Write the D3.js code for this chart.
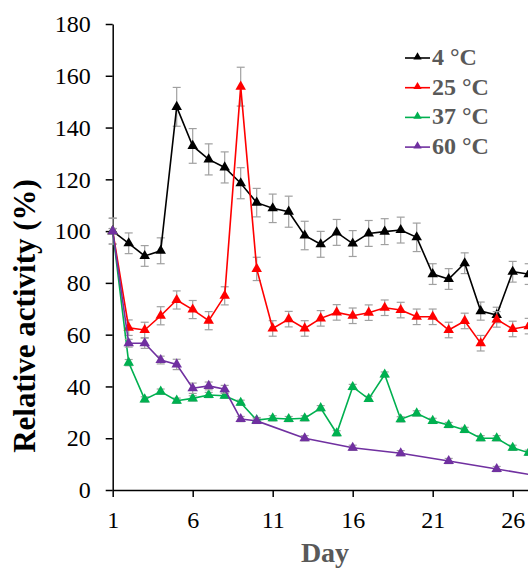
<!DOCTYPE html>
<html>
<head>
<meta charset="utf-8">
<script src="https://cdn.jsdelivr.net/npm/d3@7"></script>
<style>
  body { margin: 0; background: #fff; }
  svg { display: block; }
  text { font-family: "Times New Roman", "Liberation Serif", Tinos, Times, serif; }
</style>
</head>
<body>
<div id="chart"></div>
<script>
var width = 528
var height = 569

// days
var days = d3.range(1, 28)
var days60 = [1, 2, 3, 4, 5, 6, 7, 8, 9, 10, 13, 16, 19, 22, 25, 28]

var labels = ["4 °C", "25 °C", "37 °C", "60 °C"]
var colors = ["#000000", "#ff0000", "#00b050", "#7030a0"]

var act4 = [100, 95.3, 90.4, 92.4, 148.0, 132.9, 127.7, 124.6, 118.5, 111.0, 108.8, 107.5, 98.3,
  94.9, 99.5, 95.2, 99.1, 99.8, 100.4, 97.6, 83.4, 81.5, 87.6, 69.1, 67.6, 84.3, 83.4]
var err4 = [5, 4, 4, 5, 7.5, 6.7, 6, 6, 6, 5.5, 5.5, 6, 5.5, 5, 5, 5, 5, 5, 5, 5.5, 4, 4, 4, 3.5, 3, 4, 4]

var act25 = [100, 62.7, 61.8, 67.3, 73.4, 69.7, 65.4, 75.0, 155.8, 85.4, 62.4, 66.0, 62.4,
  66.3, 68.6, 67.3, 68.5, 70.4, 69.5, 66.9, 66.9, 61.8, 65.3, 56.7, 65.9, 62.2, 63.3]
var err25 = [5, 3, 3, 3.5, 3.5, 3.5, 3.5, 3.5, 7.5, 4.5, 3, 3, 3, 3, 3, 3, 3, 3, 3, 3, 3, 3, 3, 3, 3, 3, 3]

var act37 = [100, 49.2, 35.0, 38.0, 34.5, 35.4, 36.7, 36.4, 33.7, 27.0, 27.7, 27.4, 27.7,
  31.6, 21.9, 39.8, 35.2, 44.6, 27.3, 29.6, 26.7, 25.1, 23.2, 20.0, 20.0, 16.3, 14.4]
var err37 = [1, 1.2, 1, 1, 1, 1, 1, 1, 1, 1, 1, 1, 1, 1, 1, 1, 1, 1, 1, 1, 1, 1, 1, 1, 1, 1, 1]

var act60 = [100, 56.7, 56.7, 50.2, 48.5, 39.3, 40.2, 38.9, 27.4, 26.7, 20.0, 16.3, 14.2, 11.2, 8.1, 5.0]
var err60 = [1, 1.5, 2, 1.5, 2, 2, 1.5, 1.5, 1, 1, 1, 1, 1, 1, 1, 1]

var yTicks = [0, 20, 40, 60, 80, 100, 120, 140, 160, 180]
var xTicks = [1, 6, 11, 16, 21, 26]

var series = [
  {days: days, v: act4, e: err4},
  {days: days, v: act25, e: err25},
  {days: days, v: act37, e: err37},
  {days: days60, v: act60, e: err60}
]

var x = d3.scaleLinear().domain([1, 31]).range([112.7, 592.7])
var y = d3.scaleLinear().domain([0, 180]).range([490, 24])

var svg = d3.select("#chart").append("svg")
  .attr("width", width)
  .attr("height", height)

// axes
svg.append("g")
  .attr("transform", "translate(" + x(1) + ",0)")
  .call(d3.axisLeft(y).tickValues(yTicks).tickSize(7).tickSizeOuter(0).tickPadding(15))
svg.append("g")
  .attr("transform", "translate(0," + y(0) + ")")
  .call(d3.axisBottom(x).tickValues(xTicks).tickSize(7).tickSizeOuter(0).tickPadding(14))

svg.selectAll(".domain, .tick line").attr("stroke", "#000").attr("stroke-width", 1.5)
svg.selectAll(".tick text")
  .attr("fill", "#000")
  .attr("font-family", null)
  .style("font-size", "24px")

var line = d3.line()
var tri = d3.symbol().type(d3.symbolTriangle).size(48)

series.forEach(function(s, k) {
  var g = svg.append("g")
  var pts = s.v.map(function(v, i) { return {d: s.days[i], v: v, e: s.e[i]} })

  // error bars
  var eb = g.selectAll(".eb").data(pts).enter().append("g").attr("stroke", "#a0a0a0").attr("stroke-width", 1.2)
  eb.append("line")
    .attr("x1", function(p) { return x(p.d) }).attr("x2", function(p) { return x(p.d) })
    .attr("y1", function(p) { return y(p.v + p.e) }).attr("y2", function(p) { return y(p.v - p.e) })
  eb.append("line")
    .attr("x1", function(p) { return x(p.d) - 4 }).attr("x2", function(p) { return x(p.d) + 4 })
    .attr("y1", function(p) { return y(p.v + p.e) }).attr("y2", function(p) { return y(p.v + p.e) })
  eb.append("line")
    .attr("x1", function(p) { return x(p.d) - 4 }).attr("x2", function(p) { return x(p.d) + 4 })
    .attr("y1", function(p) { return y(p.v - p.e) }).attr("y2", function(p) { return y(p.v - p.e) })

  g.append("path")
    .attr("d", line(pts.map(function(p) { return [x(p.d), y(p.v)] })))
    .attr("fill", "none")
    .attr("stroke", colors[k])
    .attr("stroke-width", 1.6)

  g.selectAll(".m").data(pts).enter().append("path")
    .attr("d", tri)
    .attr("transform", function(p) { return "translate(" + x(p.d) + "," + y(p.v) + ")" })
    .attr("fill", colors[k])
})

// legend
var leg = svg.append("g")
labels.forEach(function(l, k) {
  var by = 65 + k * 29.7
  leg.append("line")
    .attr("x1", 405).attr("x2", 430).attr("y1", by - 7).attr("y2", by - 7)
    .attr("stroke", colors[k]).attr("stroke-width", 1.6)
  leg.append("path")
    .attr("d", d3.symbol().type(d3.symbolTriangle).size(30))
    .attr("transform", "translate(417.5," + (by - 8) + ")")
    .attr("fill", colors[k])
  leg.append("text")
    .attr("x", 432).attr("y", by)
    .attr("fill", "#595959")
    .style("font-size", "24px")
    .style("font-weight", "bold")
    .text(l)
})

// axis titles
svg.append("text")
  .attr("transform", "translate(35,316) rotate(-90)")
  .attr("text-anchor", "middle")
  .style("font-size", "31px")
  .style("font-weight", "bold")
  .attr("fill", "#000")
  .text("Relative activity (%)")

svg.append("text")
  .attr("x", 325).attr("y", 562)
  .attr("text-anchor", "middle")
  .style("font-size", "28px")
  .style("font-weight", "bold")
  .attr("fill", "#595959")
  .text("Day")
</script>
</body>
</html>
